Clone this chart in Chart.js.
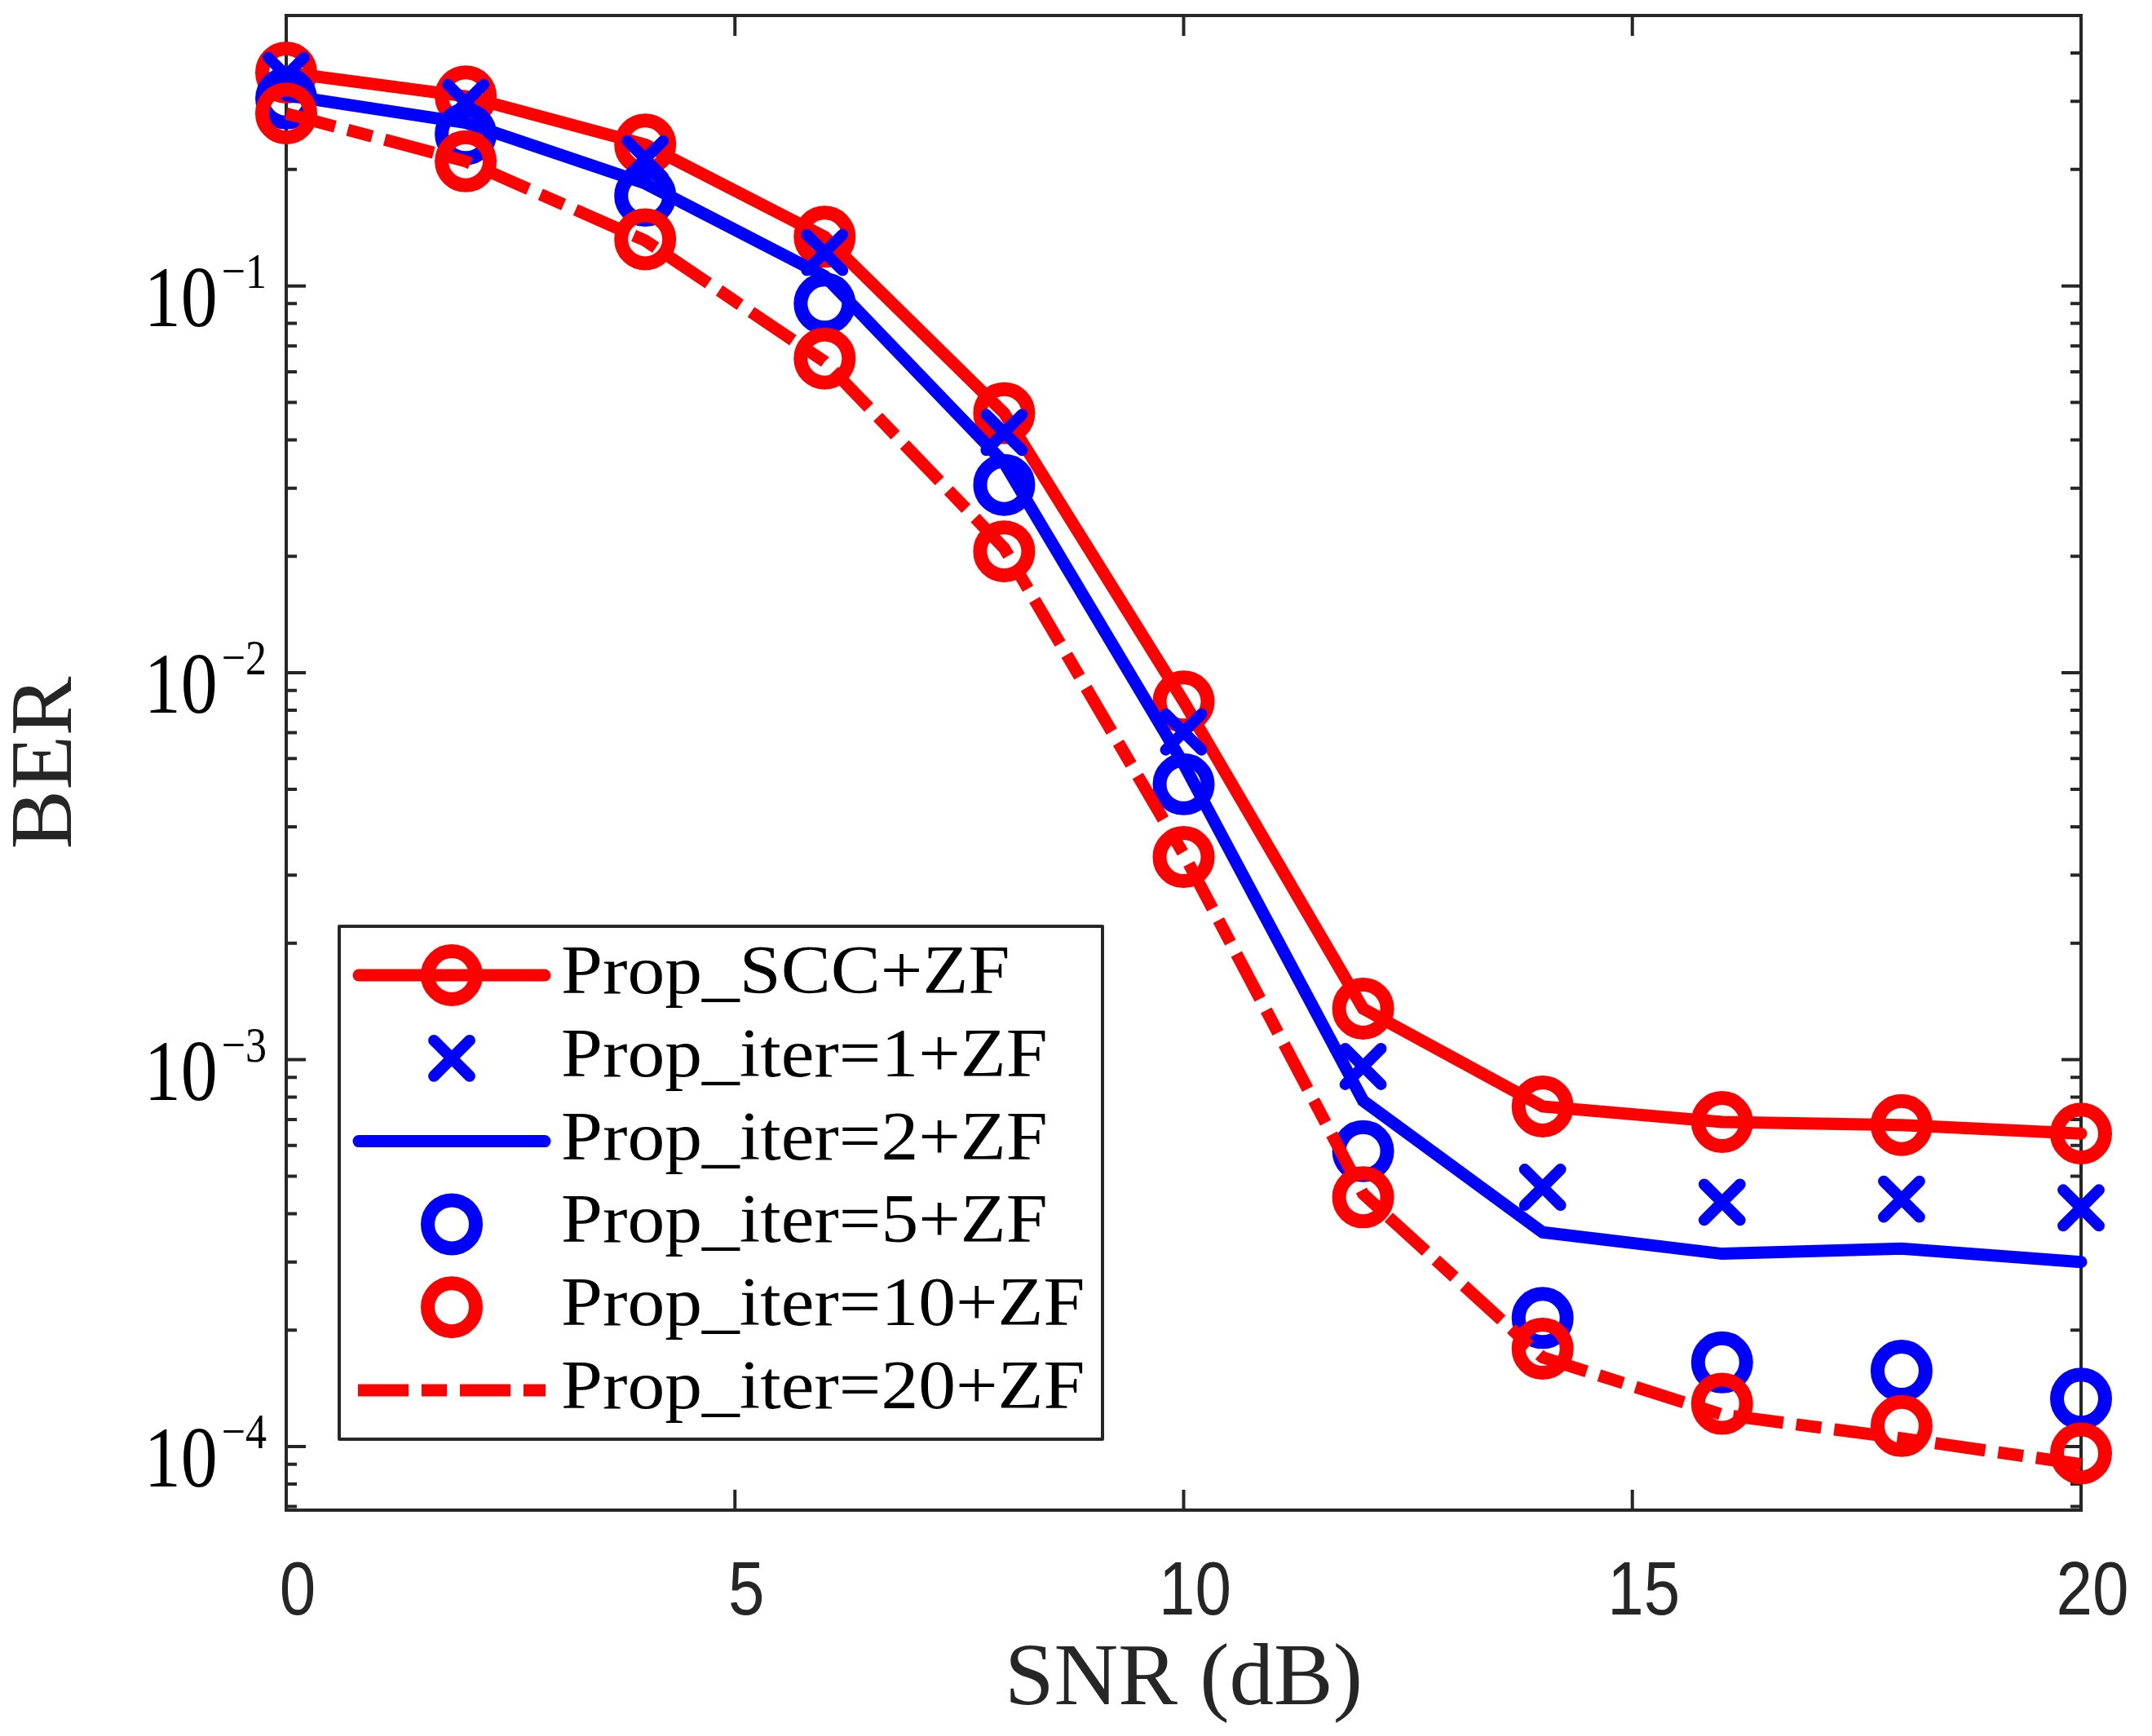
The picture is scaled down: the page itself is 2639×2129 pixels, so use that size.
<!DOCTYPE html>
<html>
<head>
<meta charset="utf-8">
<script src="https://cdn.jsdelivr.net/npm/chart.js@4.4.1/dist/chart.umd.min.js"></script>
<style>
html,body{margin:0;padding:0;background:#fff;}
#wrap{width:2639px;height:2129px;position:relative;}
canvas{display:block;}
</style>
</head>
<body>
<div id="wrap"><canvas id="c" width="2639" height="2129"></canvas></div>
<script>
// ---------------- data ----------------
const snr = [0, 2, 4, 6, 8, 10, 12, 14, 16, 18, 20];
const berSCC    = [0.356, 0.309, 0.232, 0.134, 0.0469, 0.00843, 0.001355, 0.000757, 0.00069, 0.000678, 0.000644];
const berIter1  = [0.350, 0.298, 0.213, 0.122, 0.0418, 0.00703, 0.00096, 0.000468, 0.000428, 0.000436, 0.000414];
const berIter2  = [0.311, 0.264, 0.184, 0.106, 0.0349, 0.00581, 0.000783, 0.000358, 0.000315, 0.000325, 0.000300];
const berIter5  = [0.305, 0.247, 0.171, 0.090, 0.0306, 0.00515, 0.00058, 0.000215, 0.000165, 0.000157, 0.000133];
const berIter10 = [0.279, 0.210, 0.132, 0.0649, 0.0206, 0.00334, 0.000441, 0.000179, 0.000129, 0.000113, 0.000096];
const berIter20 = [0.279, 0.210, 0.131, 0.0637, 0.0210, 0.0034, 0.00045, 0.000170, 0.000121, 0.000105, 0.000090];

const seriesLabels = ['Prop_SCC+ZF', 'Prop_iter=1+ZF', 'Prop_iter=2+ZF', 'Prop_iter=5+ZF', 'Prop_iter=10+ZF', 'Prop_iter=20+ZF'];
const xRange = [0, 20];
const xStep = 5;
const yRange = [6.85e-5, 0.5];
const yTickExponents = [-4, -3, -2, -1];
const xAxisTitle = 'SNR (dB)';
const yAxisTitle = 'BER';

// ---------------- styles ----------------
const RED = '#FF0000', BLUE = '#0000FF', AXIS = '#262626';
const LW = 15, CIRC_R = 29.5, CIRC_BW = 17, X_R = 31, X_BW = 14;

function pts(arr) { return snr.map((s, i) => ({x: s, y: arr[i]})); }

const datasets = [
  {label: seriesLabels[0], data: pts(berSCC), borderColor: RED, borderWidth: LW, showLine: true,
   borderCapStyle: 'round', pointStyle: 'circle', pointRadius: CIRC_R, pointBorderWidth: CIRC_BW,
   pointBorderColor: RED, pointBackgroundColor: 'rgba(0,0,0,0)', order: 5},
  {label: seriesLabels[1], data: pts(berIter1), borderColor: BLUE, borderWidth: 0, showLine: false,
   pointStyle: 'crossRot', pointRadius: X_R, pointBorderWidth: X_BW,
   pointBorderColor: BLUE, pointBackgroundColor: 'rgba(0,0,0,0)', order: 4},
  {label: seriesLabels[2], data: pts(berIter2), borderColor: BLUE, borderWidth: LW, showLine: true,
   borderCapStyle: 'round', pointRadius: 0, order: 3},
  {label: seriesLabels[3], data: pts(berIter5), borderColor: BLUE, borderWidth: 0, showLine: false,
   pointStyle: 'circle', pointRadius: CIRC_R, pointBorderWidth: CIRC_BW,
   pointBorderColor: BLUE, pointBackgroundColor: 'rgba(0,0,0,0)', order: 2},
  {label: seriesLabels[4], data: pts(berIter10), borderColor: RED, borderWidth: 0, showLine: false,
   pointStyle: 'circle', pointRadius: CIRC_R, pointBorderWidth: CIRC_BW,
   pointBorderColor: RED, pointBackgroundColor: 'rgba(0,0,0,0)', order: 1},
  {label: seriesLabels[5], data: pts(berIter20), borderColor: RED, borderWidth: LW, showLine: true,
   borderCapStyle: 'butt', borderDash: [62, 16, 31, 16], pointRadius: 0, order: 0}
];
datasets.forEach(d => { d.tension = 0; d.clip = false; d.fill = false; d.pointHoverRadius = d.pointRadius; });

// ---------------- plugins ----------------
const axesPlugin = {
  id: 'matlabAxes',
  beforeDraw(chart) {
    const c = chart.ctx; c.save(); c.fillStyle = '#fff'; c.fillRect(0, 0, chart.width, chart.height); c.restore();
  },
  beforeDatasetsDraw(chart) {
    const {ctx, chartArea: a, scales: {x, y}} = chart;
    ctx.save();
    ctx.strokeStyle = AXIS; ctx.lineWidth = 4; ctx.lineCap = 'butt'; ctx.setLineDash([]);
    ctx.strokeRect(a.left, a.top, a.right - a.left, a.bottom - a.top);
    ctx.beginPath();
    x.ticks.forEach(t => {
      const px = x.getPixelForValue(t.value);
      ctx.moveTo(px, a.bottom); ctx.lineTo(px, a.bottom - 25);
      ctx.moveTo(px, a.top); ctx.lineTo(px, a.top + 25);
    });
    for (let e = -6; e <= 1; e++) {
      for (let m = 1; m <= 9; m++) {
        const v = m * Math.pow(10, e);
        if (v < y.min || v > y.max) continue;
        const py = y.getPixelForValue(v);
        const len = m === 1 ? 24 : 13;
        ctx.moveTo(a.left, py); ctx.lineTo(a.left + len, py);
        ctx.moveTo(a.right, py); ctx.lineTo(a.right - len, py);
      }
    }
    ctx.stroke();
    ctx.restore();
    ctx.lineCap = 'round';
    ctx.lineJoin = 'round';
  },
  afterDraw(chart) {
    const {ctx, chartArea: a, scales: {x, y}} = chart;
    ctx.save();
    // y tick labels 10^e
    ctx.fillStyle = '#000';
    yTickExponents.forEach(e => {
      const py = y.getPixelForValue(Math.pow(10, e));
      const expTxt = '\u2212' + Math.abs(e);
      ctx.font = '52px "Liberation Serif"';
      const w = ctx.measureText(expTxt).width;
      const rx = a.left - 24;
      ctx.save(); ctx.translate(rx, py + 2); ctx.scale(1, 1.17);
      ctx.textAlign = 'right'; ctx.textBaseline = 'alphabetic'; ctx.fillText(expTxt, 0, 0); ctx.restore();
      ctx.font = '90px "Liberation Serif"';
      ctx.save(); ctx.translate(rx - w - 5, py + 49); ctx.scale(1, 1.17);
      ctx.textAlign = 'right'; ctx.textBaseline = 'alphabetic'; ctx.fillText('10', 0, 0); ctx.restore();
    });
    // x tick labels
    ctx.fillStyle = AXIS;
    ctx.font = '80px "Liberation Sans"';
    x.ticks.forEach(t => {
      const px = x.getPixelForValue(t.value);
      ctx.save(); ctx.translate(px + 14, a.bottom + 128); ctx.scale(1, 1.15);
      ctx.textAlign = 'center'; ctx.textBaseline = 'alphabetic'; ctx.fillText(String(t.value), 0, 0); ctx.restore();
    });
    ctx.restore();

    // legend
    ctx.save();
    const bx = 416, by = 1136, bw = 936, bh = 629;
    ctx.fillStyle = '#fff'; ctx.fillRect(bx, by, bw, bh);
    ctx.strokeStyle = AXIS; ctx.lineWidth = 4; ctx.setLineDash([]); ctx.lineCap = 'butt';
    ctx.strokeRect(bx, by, bw, bh);
    const rowStep = 101.8, row0 = 1196, mx = 554;
    chart.data.datasets.forEach((d, i) => {
      const cy = row0 + i * rowStep;
      if (d.showLine) {
        ctx.save();
        ctx.strokeStyle = d.borderColor; ctx.lineWidth = d.borderWidth;
        if (d.borderDash) { ctx.setLineDash(d.borderDash); ctx.lineCap = 'butt'; ctx.beginPath(); ctx.moveTo(439, cy); ctx.lineTo(669, cy); }
        else { ctx.setLineDash([]); ctx.lineCap = 'round'; ctx.beginPath(); ctx.moveTo(440, cy); ctx.lineTo(668, cy); }
        ctx.stroke(); ctx.restore();
      }
      if (d.pointRadius > 0) {
        ctx.save();
        ctx.setLineDash([]); ctx.lineCap = 'round';
        ctx.strokeStyle = d.pointBorderColor; ctx.fillStyle = d.pointBackgroundColor; ctx.lineWidth = d.pointBorderWidth;
        Chart.helpers.drawPoint(ctx, {pointStyle: d.pointStyle, radius: d.pointRadius, borderWidth: d.pointBorderWidth, rotation: 0}, mx, cy);
        ctx.restore();
      }
      ctx.save();
      ctx.fillStyle = '#000';
      ctx.font = '84px "Liberation Serif"';
      ctx.translate(688, cy + 22); ctx.scale(1.09, 1);
      ctx.textAlign = 'left'; ctx.textBaseline = 'alphabetic';
      ctx.fillText(d.label, 0, 0);
      ctx.restore();
    });
    ctx.restore();
  }
};

// ---------------- chart ----------------
new Chart(document.getElementById('c').getContext('2d'), {
  type: 'line',
  data: {datasets: datasets},
  plugins: [axesPlugin],
  options: {
    responsive: false,
    devicePixelRatio: 1,
    animation: false,
    events: [],
    layout: {autoPadding: false, padding: {left: 0, top: 19, right: 87, bottom: 0}},
    plugins: {legend: {display: false}, tooltip: {enabled: false}},
    scales: {
      x: {
        type: 'linear', min: xRange[0], max: xRange[1], bounds: 'data',
        ticks: {display: false, stepSize: xStep},
        grid: {display: false, drawTicks: false},
        border: {display: false},
        title: {display: true, text: xAxisTitle, color: AXIS,
                font: {family: 'Liberation Serif', size: 109, lineHeight: 1}, padding: {top: 0, bottom: 13}},
        afterFit: s => { s.height = 277; }
      },
      y: {
        type: 'logarithmic', min: yRange[0], max: yRange[1], bounds: 'data',
        ticks: {display: false},
        grid: {display: false, drawTicks: false},
        border: {display: false},
        title: {display: true, text: yAxisTitle, color: AXIS,
                font: {family: 'Liberation Serif', size: 109, lineHeight: 1}, padding: {top: 4, bottom: 0}},
        afterFit: s => { s.width = 351; }
      }
    }
  }
});
</script>
</body>
</html>
